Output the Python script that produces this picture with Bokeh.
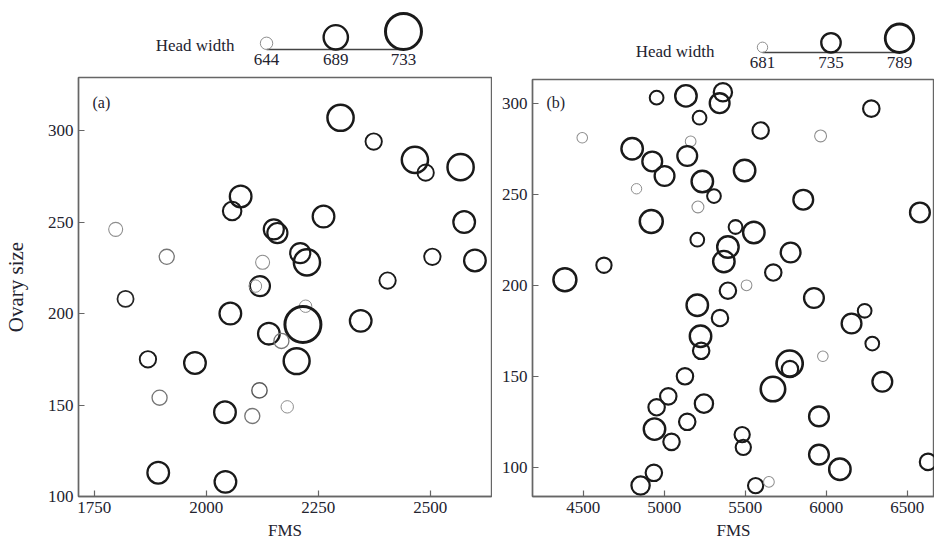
from bokeh.plotting import figure
from bokeh.layouts import row, column
from bokeh.models import (ColumnDataSource, LinearInterpolator, LinearColorMapper,
                          FixedTicker, Range1d, Label)
from bokeh.core.properties import value
from bokeh.embed import file_html
from bokeh.resources import INLINE

FONT = "Liberation Serif"
FONT_V = value(FONT)
INK = "#23232f"
FRAME = "#666666"

# ---- panel (a) ----
fms_a = [2300, 2374, 2466, 2490, 2568, 2077, 2058, 2262, 2576, 1798,
         2151, 2159, 1912, 2210, 2225, 2126, 2505, 2600, 2405, 2120,
         2110, 1820, 2054, 2222, 2216, 2345, 2140, 2168, 1870, 1975,
         2202, 1896, 2119, 2042, 2103, 2181, 1893, 2043]
ovary_a = [307, 294, 284, 277, 280, 264, 256, 253, 250, 246,
           246, 244, 231, 233, 228, 228, 231, 229, 218, 215,
           215, 208, 200, 204, 194, 196, 189, 185, 175, 173,
           174, 154, 158, 146, 144, 149, 113, 108]
head_a = [696, 659, 696, 659, 696, 679, 667, 679, 679, 650,
          673, 673, 654, 673, 696, 650, 659, 679, 659, 673,
          644, 658, 679, 644, 733, 679, 679, 654, 659, 679,
          695, 654, 655, 679, 654, 644, 679, 679]
key_a = [644, 689, 733]

# ---- panel (b) ----
fms_b = [4953, 5134, 5362, 5342, 5218, 6278, 4494, 5595, 5965, 5163,
         4802, 4926, 5002, 5142, 5235, 5307, 5496, 4829, 5208, 5858,
         6578, 4920, 5204, 5440, 5553, 5393, 5368, 5780, 5673, 4628,
         4387, 5393, 5508, 5924, 5204, 5344, 6237, 6156, 5224, 5228,
         6284, 5979, 5774, 5776, 5128, 5671, 6346, 5025, 5245, 4953,
         5955, 5142, 4940, 5045, 5481, 5488, 5955, 6084, 6628, 4936,
         4854, 5564, 5646]
ovary_b = [303, 304, 306, 300, 292, 297, 281, 285, 282, 279,
           275, 268, 260, 271, 257, 249, 263, 253, 243, 247,
           240, 235, 225, 232, 229, 221, 213, 218, 207, 211,
           203, 197, 200, 193, 189, 182, 186, 179, 172, 164,
           168, 161, 157, 154, 150, 143, 147, 139, 135, 133,
           128, 125, 121, 114, 118, 111, 107, 99, 103, 97,
           90, 90, 92]
head_b = [701, 747, 728, 737, 701, 717, 682, 717, 690, 683,
          747, 737, 737, 737, 747, 701, 747, 681, 690, 737,
          737, 756, 701, 701, 747, 747, 747, 737, 717, 710,
          756, 717, 683, 737, 747, 717, 701, 737, 747, 717,
          701, 682, 775, 717, 717, 765, 737, 717, 728, 717,
          737, 717, 747, 717, 710, 710, 737, 747, 717, 717,
          728, 710, 683]
key_b = [681, 735, 789]

GREYS = ["#8e8e8e", "#767676", "#5a5a5a", "#3c3c3c", "#262626", "#1a1a1a"]


def encodings(lo, hi, d_lo, d_hi, c_lo, c_hi, w_pts):
    """Head width -> marker diameter, lift above the key line, stroke width, stroke grey."""
    size_map = LinearInterpolator(x=[lo, hi], y=[d_lo, d_hi])
    lift_map = LinearInterpolator(x=[lo, hi], y=[d_lo / 2, d_hi / 2])
    width_map = LinearInterpolator(x=[p[0] for p in w_pts], y=[p[1] for p in w_pts])
    color_map = LinearColorMapper(palette=GREYS, low=c_lo, high=c_hi)
    return size_map, lift_map, width_map, color_map


def legend_fig(width, key, maps, xr, yr, title_x, title_y):
    size_map, lift_map, width_map, color_map = maps
    lg = figure(width=width, height=72, x_range=Range1d(*xr), y_range=Range1d(*yr),
                output_backend="svg", toolbar_location=None, min_border=0,
                x_axis_location=None, y_axis_location=None)
    lg.grid.visible = False
    lg.outline_line_color = None
    src = ColumnDataSource(dict(head=key, label=[str(k) for k in key],
                                base=[0] * len(key)))
    lg.segment(x0=key[0], y0=0, x1=key[-1], y1=0, line_color="#444444", line_width=1.3)
    lg.scatter("head", {"field": "head", "transform": lift_map}, source=src,
               marker="circle", fill_color=None,
               size={"field": "head", "transform": size_map},
               line_width={"field": "head", "transform": width_map},
               line_color={"field": "head", "transform": color_map})
    lg.text("head", "base", text="label", source=src, y_offset=4,
            text_align="center", text_baseline="top", text_font=FONT_V,
            text_font_size="17px", text_color=INK)
    lg.add_layout(Label(x=title_x, y=title_y, x_units="screen", y_units="screen",
                        text="Head width", text_align="right", text_baseline="middle",
                        text_font=FONT, text_font_size="17px", text_color=INK))
    return lg


def main_fig(width, fms, ovary, head, maps, xr, yr, xticks, yticks, tag, mleft, mtop,
             ylabel=None):
    size_map, lift_map, width_map, color_map = maps
    p = figure(width=width, height=470, x_range=Range1d(*xr), y_range=Range1d(*yr),
               output_backend="svg", toolbar_location=None,
               min_border_left=mleft, min_border_right=1 if ylabel else 0,
               min_border_top=mtop, min_border_bottom=46)
    p.grid.visible = False
    p.outline_line_color = FRAME
    p.outline_line_width = 1.4
    p.xaxis.ticker = FixedTicker(ticks=xticks)
    p.yaxis.ticker = FixedTicker(ticks=yticks)
    for ax in (p.xaxis[0], p.yaxis[0]):
        ax.major_tick_in = 6
        ax.major_tick_out = 0
        ax.minor_tick_line_color = None
        ax.axis_line_color = FRAME
        ax.axis_line_width = 1.4
        ax.major_tick_line_color = FRAME
        ax.major_tick_line_width = 1.2
        ax.major_label_text_font = FONT
        ax.major_label_text_font_size = "17px"
        ax.major_label_text_color = INK
        ax.axis_label_text_font = FONT
        ax.axis_label_text_font_style = "normal"
        ax.axis_label_text_color = INK
    p.xaxis.major_label_standoff = 5
    p.yaxis.major_label_standoff = 5
    p.xaxis.axis_label = "FMS"
    p.xaxis.axis_label_text_font_size = "17px"
    p.xaxis.axis_label_standoff = 5
    if ylabel:
        p.yaxis.axis_label = ylabel
        p.yaxis.axis_label_text_font_size = "21px"
        p.yaxis.axis_label_standoff = 17
    src = ColumnDataSource(dict(fms=fms, ovary=ovary, head=head))
    p.scatter("fms", "ovary", source=src, marker="circle", fill_color=None,
              size={"field": "head", "transform": size_map},
              line_width={"field": "head", "transform": width_map},
              line_color={"field": "head", "transform": color_map})
    p.add_layout(Label(x=14, y=394, x_units="screen", y_units="screen", text=tag,
                       text_baseline="middle", text_font=FONT, text_font_size="16px",
                       text_color=INK))
    return p


maps_a = encodings(644, 733, 12.4, 36.0, 652, 660,
                   [(644, 1.0), (652, 1.1), (660, 2.0), (733, 3.0)])
maps_b = encodings(681, 789, 10.4, 28.5, 692, 700,
                   [(681, 1.0), (692, 1.1), (700, 2.0), (789, 2.8)])

# the key strips share their frame edges with the panels below them
leg_a = legend_fig(492, key_a, maps_a, (521.8, 790.2), (-23, 49), 156, 27)
leg_b = legend_fig(442, key_b, maps_b, (499.7, 816.6), (-20, 52), 182, 21)

fig_a = main_fig(492, fms_a, ovary_a, head_a, maps_a, (1715, 2637), (100, 329),
                 [1750, 2000, 2250, 2500], [100, 150, 200, 250, 300], "(a)", 77, 5,
                 ylabel="Ovary size")
fig_b = main_fig(442, fms_b, ovary_b, head_b, maps_b, (4187, 6668), (84, 313),
                 [4500, 5000, 5500, 6000, 6500], [100, 150, 200, 250, 300], "(b)", 40, 7)

layout = row(column(leg_a, fig_a), column(leg_b, fig_b))
open("out.html", "w").write(file_html(layout, INLINE))
